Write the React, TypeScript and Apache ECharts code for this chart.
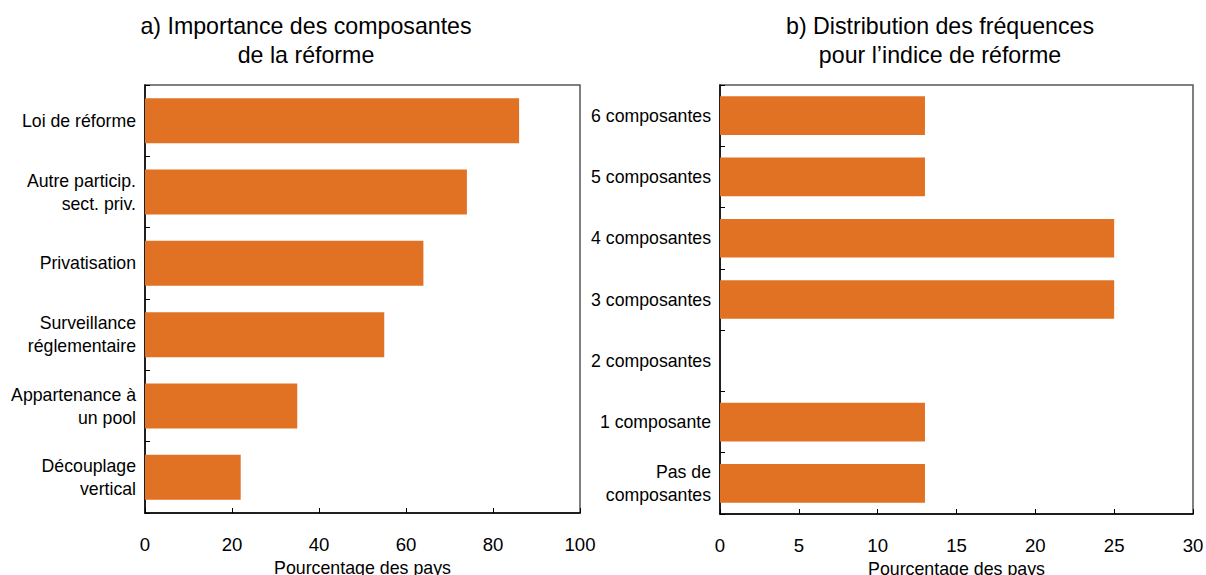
import React, { useEffect, useRef } from "react";
import * as echarts from "echarts";

const leftCategories = [
  "Loi de réforme",
  "Autre particip.\nsect. priv.",
  "Privatisation",
  "Surveillance\nréglementaire",
  "Appartenance à\nun pool",
  "Découplage\nvertical",
];
const leftValues = [86, 74, 64, 55, 35, 22];

const rightCategories = [
  "6 composantes",
  "5 composantes",
  "4 composantes",
  "3 composantes",
  "2 composantes",
  "1 composante",
  "Pas de\ncomposantes",
];
const rightValues = [13, 13, 25, 25, 0, 13, 13];

const leftTitle = "a) Importance des composantes\nde la réforme";
const rightTitle = "b) Distribution des fréquences\npour l’indice de réforme";
const xAxisName = "Pourcentage des pays";

const FONT = "Liberation Sans, Arial, Helvetica, sans-serif";
const BAR = "#E17224";

export default function App() {
  const ref = useRef<HTMLDivElement>(null);
  useEffect(() => {
    if (!ref.current) return;
    const chart = echarts.init(ref.current, undefined, { renderer: "svg" });
    const xAxisCommon = (max: number, interval: number) => ({
      type: "value" as const,
      min: 0,
      max,
      interval,
      name: xAxisName,
      nameLocation: "middle" as const,
      nameGap: 45,
      nameTextStyle: { fontFamily: FONT, fontSize: 17.8, color: "#000" },
      axisLine: { show: true, lineStyle: { color: "#000", width: 1.5 } },
      axisTick: { show: true, inside: true, length: 5, lineStyle: { color: "#000" } },
      axisLabel: { fontFamily: FONT, fontSize: 18.6, color: "#000", margin: 22 },
      splitLine: { show: false },
    });
    const yAxisCommon = (data: string[], margin: number) => ({
      type: "category" as const,
      data,
      inverse: true,
      axisLine: { show: true, lineStyle: { color: "#000", width: 1.5 } },
      axisTick: { show: true, inside: true, length: 5, lineStyle: { color: "#000" } },
      axisLabel: {
        fontFamily: FONT,
        fontSize: 17.7,
        lineHeight: 23,
        color: "#000",
        margin,
        align: "right" as const,
      },
    });
    const gridCommon = {
      top: 85,
      show: true,
      borderColor: "#555",
      borderWidth: 1.5,
      backgroundColor: "transparent",
      containLabel: false,
      outerBoundsMode: "none",
    };
    chart.setOption({
      animation: false,
      backgroundColor: "#fff",
      textStyle: { fontFamily: FONT },
      graphic: [
        {
          type: "text",
          x: 306,
          y: 11,
          style: {
            text: leftTitle,
            fontFamily: FONT,
            fontSize: 23.2,
            lineHeight: 29,
            fill: "#000",
            align: "center",
            verticalAlign: "top",
          },
        },
        {
          type: "text",
          x: 940,
          y: 11,
          style: {
            text: rightTitle,
            fontFamily: FONT,
            fontSize: 23.2,
            lineHeight: 29,
            fill: "#000",
            align: "center",
            verticalAlign: "top",
          },
        },
      ],
      grid: [
        { ...gridCommon, left: 145, right: 626, bottom: 62 },
        { ...gridCommon, left: 720, right: 13, bottom: 61 },
      ],
      xAxis: [
        { ...xAxisCommon(100, 20), gridIndex: 0 },
        { ...xAxisCommon(30, 5), gridIndex: 1 },
      ],
      yAxis: [
        { ...yAxisCommon(leftCategories, 9), gridIndex: 0 },
        { ...yAxisCommon(rightCategories, 9), gridIndex: 1 },
      ],
      series: [
        {
          type: "bar",
          xAxisIndex: 0,
          yAxisIndex: 0,
          data: leftValues,
          barCategoryGap: "37%",
          itemStyle: { color: BAR },
        },
        {
          type: "bar",
          xAxisIndex: 1,
          yAxisIndex: 1,
          data: rightValues,
          barCategoryGap: "37%",
          itemStyle: { color: BAR },
        },
      ],
    });
    return () => chart.dispose();
  }, []);
  return (
    <div
      ref={ref}
      style={{ position: "fixed", left: 0, top: 0, width: 1206, height: 575, background: "#fff" }}
    />
  );
}
